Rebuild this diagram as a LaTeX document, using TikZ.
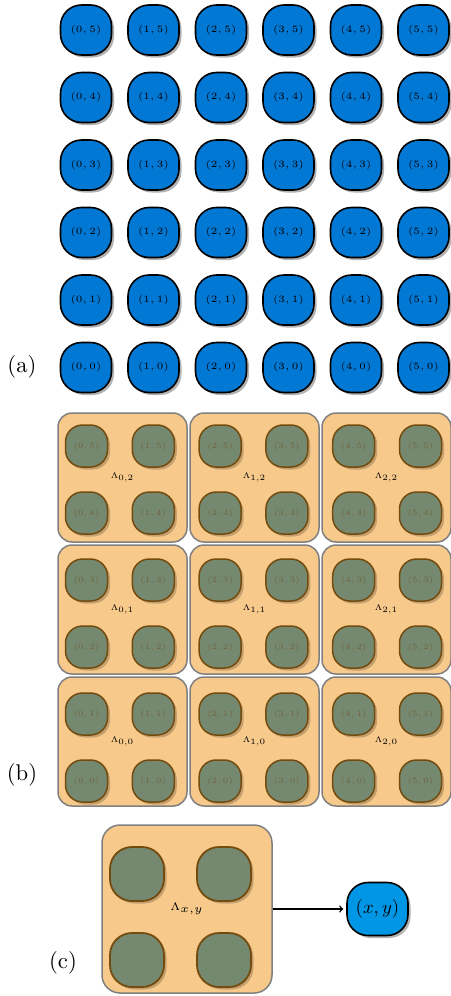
\RequirePackage{fix-cm}
\documentclass[tikz,border=0pt]{standalone}
\usepackage{graphicx}
\usetikzlibrary{shadows}
\definecolor{topblue}{RGB}{0,120,212}
\definecolor{lightblue}{RGB}{0,150,230}
\definecolor{blockfill}{RGB}{247,201,139}
\definecolor{blockdraw}{RGB}{128,128,128}
\definecolor{cellfill}{RGB}{116,137,111}
\definecolor{celldraw}{RGB}{115,75,15}
\definecolor{celltext}{RGB}{115,100,62}
\newcommand\myTinyScaled[2]{\scalebox{#1}{\fontsize{5}{6}\selectfont #2}}
\begin{document}
\begin{tikzpicture}[x=1pt,y=-1pt,
  topnode/.style={draw=black, line width=1.6pt, fill=topblue, rounded corners=21pt,
    minimum width=51pt, minimum height=50pt, inner sep=0pt,
    drop shadow={shadow xshift=2.5pt, shadow yshift=-2.5pt, fill=black, opacity=0.3}},
  blocknode/.style={draw=blockdraw, line width=1.5pt, fill=blockfill, rounded corners=14pt,
    minimum width=129pt, minimum height=129pt, inner sep=0pt},
  cellnode/.style={draw=celldraw, line width=1.5pt, fill=cellfill, rounded corners=17pt,
    minimum width=42pt, minimum height=42pt, inner sep=0pt, text=celltext,
    drop shadow={shadow xshift=2.5pt, shadow yshift=-2.5pt, fill=black, opacity=0.2}},
  bigblock/.style={blocknode, minimum width=170pt, minimum height=168pt, rounded corners=18pt},
  bigcell/.style={cellnode, minimum width=54pt, minimum height=54pt, rounded corners=22pt, line width=1.8pt},
  xynode/.style={topnode, fill=lightblue, minimum width=61pt, minimum height=53pt, rounded corners=21pt},
  partlabel/.style={inner sep=0pt}
]
\useasboundingbox (0,0) rectangle (450,996);

% (a) grid
\foreach \i in {0,...,5}{
  \foreach \j in {0,...,5}{
    \node[topnode] (t-\i-\j) at ({86+67.5*\i},{367.5-67.5*\j}) {\myTinyScaled{1.94}{$(\i, \j)$}};
  }
}
\node[partlabel] (la) at (22,367) {\scalebox{2.27}{(a)}};

% (b) blocks
\foreach \X in {0,1,2}{
  \foreach \Y in {0,1,2}{
    \node[blocknode] (B-\X-\Y) at ({122.5+132*\X},{741.5-132*\Y}) {\myTinyScaled{1.64}{$\Lambda_{\X,\Y}$}};
  }
}
\foreach \i in {0,...,5}{
  \foreach \j in {0,...,5}{
    \node[cellnode] (b-\i-\j) at ({86.5+66.8*\i},{781-67*\j}) {\myTinyScaled{1.63}{$(\i, \j)$}};
  }
}
\node[partlabel] (lb) at (22,775) {\scalebox{2.27}{(b)}};

% (c)
\node[bigblock] (C) at (187,909) {\myTinyScaled{2.2}{$\Lambda_{x,y}$}};
\node[bigcell] (c-tl) at (137,874) {};
\node[bigcell] (c-tr) at (224,874) {};
\node[bigcell] (c-bl) at (137,960) {};
\node[bigcell] (c-br) at (224,960) {};
\node[xynode] (xy) at (377.5,909) {\scalebox{1.88}{$(x,y)$}};
\draw[->, line width=1.5pt, shorten >=3pt] (C.east) -- (xy.west);
\node[partlabel] (lc) at (63,963) {\scalebox{2.27}{(c)}};
\end{tikzpicture}
\end{document}
